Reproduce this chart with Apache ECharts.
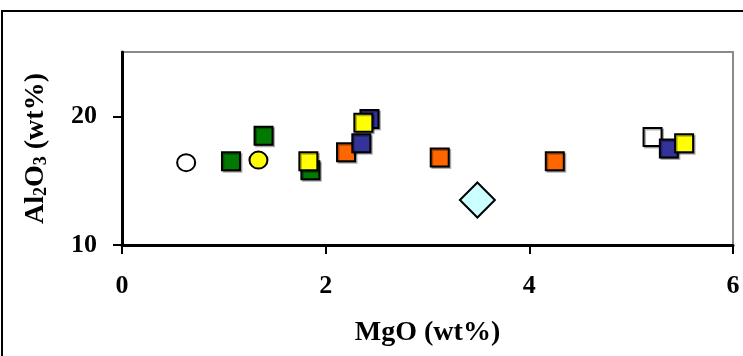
<!DOCTYPE html>
<html>
<head>
<meta charset="utf-8">
<script src="https://cdn.jsdelivr.net/npm/echarts@6/dist/echarts.min.js"></script>
<style>html,body{margin:0;padding:0;background:#fff}#c{width:743px;height:356px}</style>
</head>
<body>
<div id="c"></div>
<script>
// Data: [MgO, Al2O3]
const whiteCircle = [[0.63, 16.4]];
const greenSquares = [[1.07, 16.5], [1.39, 18.5], [1.85, 15.8]];
const whiteSquare = [[5.21, 18.4]];
const orangeSquares = [[2.20, 17.2], [3.12, 16.8], [4.25, 16.5]];
const blueSquares = [[2.43, 19.8], [2.35, 17.9], [5.37, 17.5]];
const yellowCircle = [[1.34, 16.6]];
const yellowSquares = [[1.83, 16.5], [2.37, 19.5], [5.52, 17.9]];
const diamond = [[3.49, 13.5]];
const xTicks = [0, 2, 4, 6];
const yTicks = [10, 20];

const font = '"Liberation Serif","Times New Roman",serif';
function sq(data, color, size) {
  return {
    type: 'scatter', data: data, symbol: 'rect', symbolSize: size || 18,
    itemStyle: { color: color, opacity: 1, borderColor: '#000', borderWidth: 2,
      shadowColor: 'rgba(0,0,0,0.3)', shadowOffsetX: 1.5, shadowOffsetY: 1.5, shadowBlur: 0 },
    emphasis: { disabled: true }, z: 3
  };
}
function circ(data, color) {
  return {
    type: 'scatter', data: data, symbol: 'circle', symbolSize: [18, 17],
    itemStyle: { color: color, opacity: 1, borderColor: '#000', borderWidth: 2 },
    emphasis: { disabled: true }, z: 3
  };
}
const chart = echarts.init(document.getElementById('c'), null, { renderer: 'canvas' });
chart.setOption({
  animation: false,
  backgroundColor: '#fff',
  graphic: [{
    type: 'rect', shape: { x: 2, y: 11, width: 800, height: 400 },
    style: { fill: 'none', stroke: '#000', lineWidth: 2 }, z: -1
  }],
  grid: { left: 122, right: 10, top: 52, bottom: 111, show: true, borderColor: '#8a8a8a', borderWidth: 2, backgroundColor: '#fff' },
  xAxis: {
    type: 'value', min: 0, max: 6, interval: 2,
    name: 'MgO (wt%)', nameLocation: 'middle', nameGap: 74,
    nameTextStyle: { fontFamily: font, fontWeight: 'bold', fontSize: 28, color: '#000' },
    axisLine: { show: true, lineStyle: { color: '#000', width: 3 } },
    axisTick: { show: true, inside: false, length: 9, lineStyle: { color: '#000', width: 2 }, customValues: xTicks },
    axisLabel: { margin: 28, fontFamily: font, fontWeight: 'bold', fontSize: 26, color: '#000', customValues: xTicks },
    splitLine: { show: false }
  },
  yAxis: {
    type: 'value', min: 10, max: 25, interval: 5,
    name: 'Al{s|2}O{s|3} (wt%)', nameLocation: 'middle', nameGap: 72, nameRotate: 90,
    nameTextStyle: { fontFamily: font, fontWeight: 'bold', fontSize: 28, color: '#000',
      rich: { s: { fontFamily: font, fontWeight: 'bold', fontSize: 18, color: '#000', verticalAlign: 'bottom', padding: [8, 0, 0, 0] } } },
    axisLine: { show: true, lineStyle: { color: '#000', width: 3 } },
    axisTick: { show: true, inside: false, length: 9, lineStyle: { color: '#000', width: 2 }, customValues: yTicks },
    axisLabel: { margin: 25, fontFamily: font, fontWeight: 'bold', fontSize: 26, color: '#000', customValues: yTicks },
    splitLine: { show: false }
  },
  series: [
    circ(whiteCircle, '#ffffff'),
    sq(greenSquares, '#007a00'),
    sq(whiteSquare, '#ffffff'),
    sq(orangeSquares, '#ff6600'),
    sq(blueSquares, '#333399'),
    circ(yellowCircle, '#ffff00'),
    sq(yellowSquares, '#ffff00'),
    { type: 'scatter', data: diamond, symbol: 'diamond', symbolSize: 35,
      itemStyle: { color: '#ccffff', opacity: 1, borderColor: '#000', borderWidth: 2 }, emphasis: { disabled: true }, z: 3 }
  ]
});
</script>
</body>
</html>
